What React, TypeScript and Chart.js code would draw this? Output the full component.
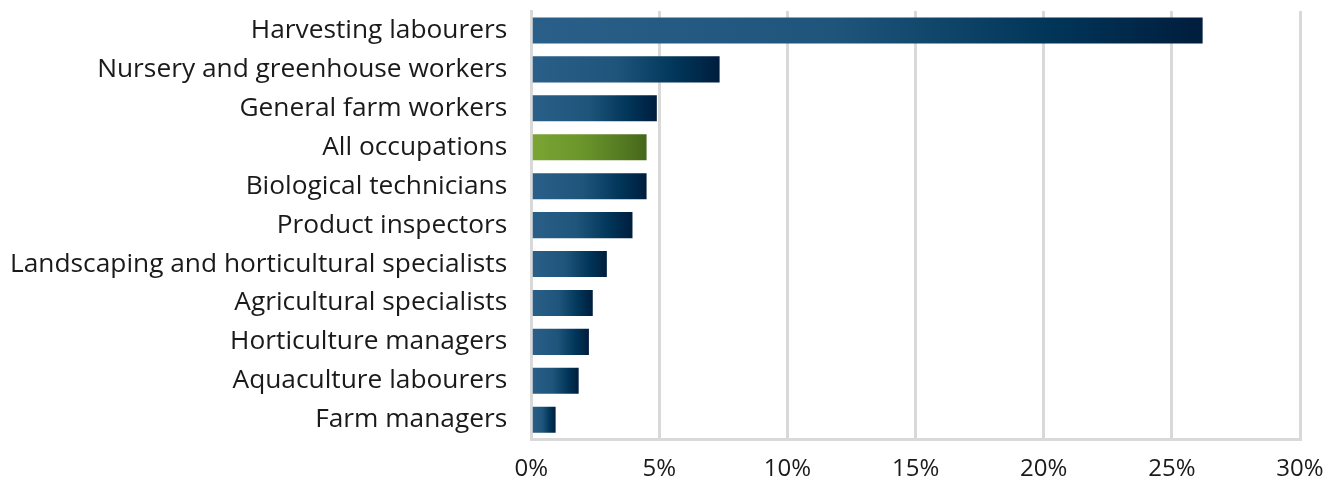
import React, { useEffect, useRef } from "react";
import { Chart, registerables } from "chart.js";

Chart.register(...registerables);

const categories = [
  "Harvesting labourers",
  "Nursery and greenhouse workers",
  "General farm workers",
  "All occupations",
  "Biological technicians",
  "Product inspectors",
  "Landscaping and horticultural specialists",
  "Agricultural specialists",
  "Horticulture managers",
  "Aquaculture labourers",
  "Farm managers",
];

const values = [26.2, 7.35, 4.9, 4.5, 4.5, 3.95, 2.95, 2.4, 2.25, 1.85, 0.95];

const highlightCategory = "All occupations";

const xTicks = [0, 5, 10, 15, 20, 25, 30];

const blueStops = ["#2a5f89", "#1f557b", "#003558", "#001d3d"];
const greenStops = ["#7ba533", "#6a952b", "#557b22", "#45661a"];

export default function App() {
  const ref = useRef<HTMLCanvasElement>(null);

  useEffect(() => {
    const canvas = ref.current;
    if (!canvas) return;
    const font = '"Open Sans", sans-serif';
    const chart = new Chart(canvas, {
      type: "bar",
      data: {
        labels: categories,
        datasets: [
          {
            data: values,
            backgroundColor: (ctx: any) => {
              const c = ctx.chart;
              const stops =
                categories[ctx.dataIndex] === highlightCategory ? greenStops : blueStops;
              const xs = c.scales && c.scales.x;
              if (!xs || !c.chartArea || ctx.raw == null) return stops[1];
              const x0 = xs.getPixelForValue(0);
              const x1 = xs.getPixelForValue(ctx.raw);
              if (!isFinite(x0) || !isFinite(x1) || x1 <= x0) return stops[1];
              const g = c.ctx.createLinearGradient(x0, 0, x1, 0);
              g.addColorStop(0, stops[0]);
              g.addColorStop(0.45, stops[1]);
              g.addColorStop(0.78, stops[2]);
              g.addColorStop(1, stops[3]);
              return g;
            },
            borderWidth: 0,
            barPercentage: 0.67,
            categoryPercentage: 1,
          },
        ],
      },
      options: {
        indexAxis: "y",
        animation: false,
        responsive: true,
        maintainAspectRatio: false,
        layout: { padding: { top: 11, right: 30, left: -14, bottom: -10 } },
        plugins: {
          legend: { display: false },
          tooltip: { enabled: false },
        },
        scales: {
          x: {
            min: 0,
            max: 30,
            afterBuildTicks: (axis: any) => {
              axis.ticks = xTicks.map((v) => ({ value: v }));
            },
            afterFit: (axis: any) => {
              axis.paddingLeft = 0;
              axis.paddingRight = 0;
            },
            ticks: {
              color: "#1a1a1a",
              font: { family: font, size: 24 },
              padding: 16,
              callback: (v: any) => v + "%",
            },
            grid: {
              color: "#d9d9d9",
              lineWidth: 3,
              drawTicks: false,
            },
            border: { display: true, color: "#d9d9d9", width: 3 },
          },
          y: {
            afterFit: (axis: any) => {
              axis.paddingTop = 0;
              axis.paddingBottom = 0;
            },
            ticks: {
              color: "#1a1a1a",
              font: { family: font, size: 26.3 },
              padding: 24,
            },
            grid: { display: false, drawTicks: false },
            border: { display: true, color: "#d9d9d9", width: 3 },
          },
        },
      },
    });
    return () => chart.destroy();
  }, []);

  return (
    <div style={{ position: "absolute", left: 0, top: 0, width: 1330, height: 490 }}>
      <canvas ref={ref} />
    </div>
  );
}
